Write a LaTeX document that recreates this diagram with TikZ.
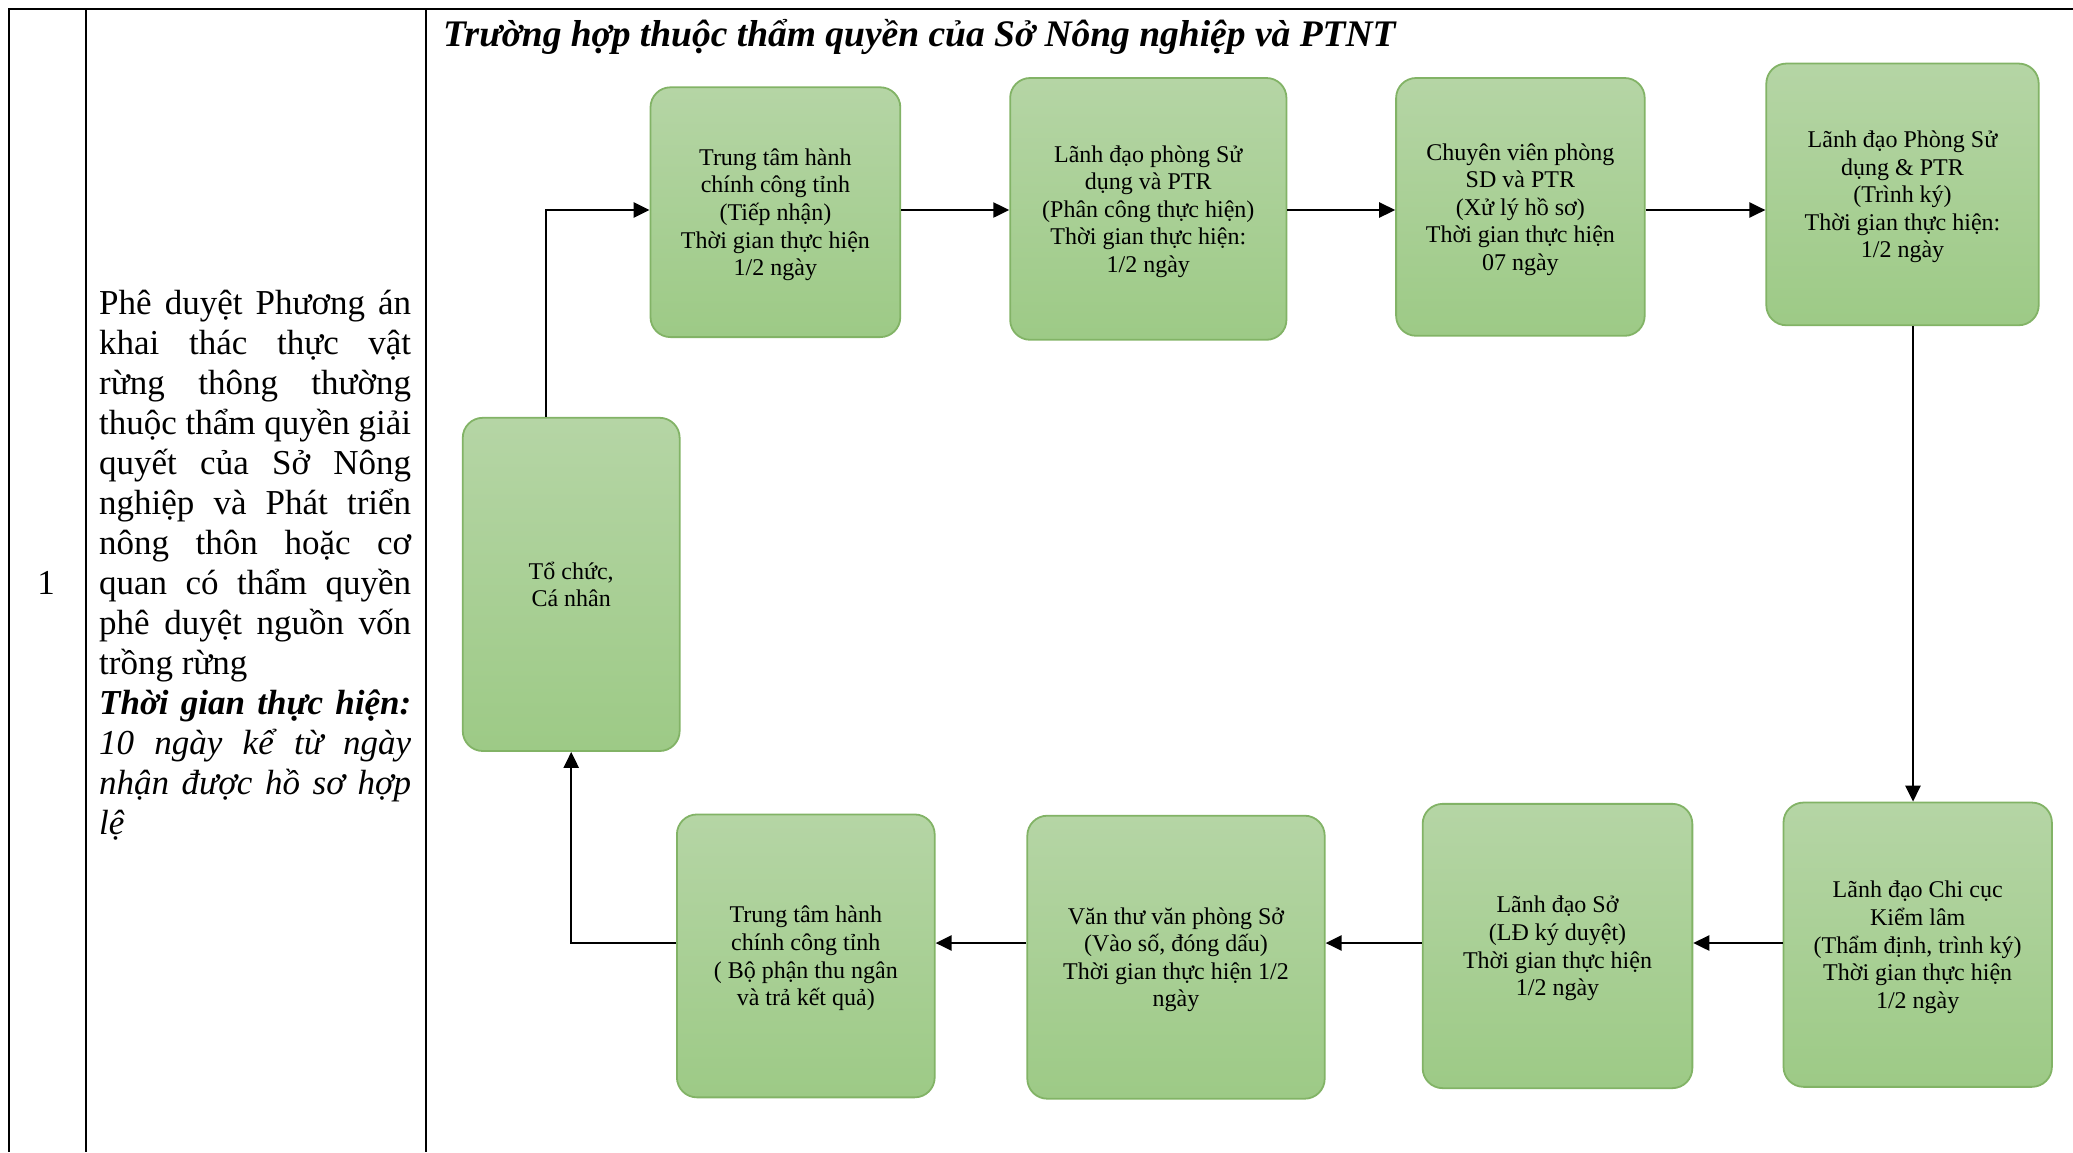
\documentclass[tikz,border=0pt]{standalone}
\usepackage{fontspec}
\setmainfont{Liberation Serif}
\usetikzlibrary{arrows.meta}
\definecolor{gtop}{RGB}{181,213,165}
\definecolor{gbot}{RGB}{157,202,134}
\definecolor{gline}{RGB}{130,179,102}
\hbadness=10000
\hfuzz=20pt
\begin{document}
\begin{tikzpicture}[x=1pt,y=-1pt,
  stepbox/.style={draw=gline, line width=1.8pt, rounded corners=20pt,
    top color=gtop, bottom color=gbot, align=center, inner sep=0pt,
    text depth=-2.5pt,
    font=\fontsize{24}{27.6}\selectfont},
  arr/.style={line width=2.5pt, -{Triangle[length=16pt,width=15pt]}},
  tbl/.style={line width=2.6pt}]
\useasboundingbox (0,0) rectangle (2073,1152);
% table rules
\coordinate (tl) at (9,9);
\coordinate (tr) at (2073,9);
\draw[tbl] (tr) -- (tl) -- (9,1152);
\draw[tbl] (86,9) -- (86,1152);
\draw[tbl] (426,9) -- (426,1152);
% title
\node[anchor=base west, inner sep=0pt, font=\fontsize{37.5}{40}\selectfont\bfseries\itshape] (title) at (443,46)
  {Trường hợp thuộc thẩm quyền của Sở Nông nghiệp và PTNT};
% number
\node[inner sep=0pt, font=\fontsize{35}{40}\selectfont] (num) at (46,583) {1};
% description
\node[anchor=base west, inner sep=0pt] (desc) at (99,314) {\vtop{\fontsize{35}{40}\selectfont
  \hbox to 312pt{Phê duyệt Phương án}
  \hbox to 312pt{khai thác thực vật}
  \hbox to 312pt{rừng thông thường}
  \hbox to 312pt{thuộc thẩm quyền giải}
  \hbox to 312pt{quyết của Sở Nông}
  \hbox to 312pt{nghiệp và Phát triển}
  \hbox to 312pt{nông thôn hoặc cơ}
  \hbox to 312pt{quan có thẩm quyền}
  \hbox to 312pt{phê duyệt nguồn vốn}
  \hbox{trồng rừng}
  \hbox to 312pt{\bfseries\itshape Thời gian thực hiện:}
  \hbox to 312pt{\itshape 10 ngày kể từ ngày}
  \hbox to 312pt{\itshape nhận được hồ sơ hợp}
  \hbox{\itshape lệ}}};
% boxes
\node[stepbox, minimum width=249.8pt, minimum height=249.8pt] (b1) at (775.4,212.2)
  {Trung tâm hành\\chính công tỉnh\\(Tiếp nhận)\\Thời gian thực hiện\\1/2 ngày};
\node[stepbox, minimum width=276.3pt, minimum height=261.8pt] (b2) at (1148.3,208.9)
  {Lãnh đạo phòng Sử\\dụng và PTR\\(Phân công thực hiện)\\Thời gian thực hiện:\\1/2 ngày};
\node[stepbox, minimum width=248.6pt, minimum height=257.8pt] (b3) at (1520.4,206.9)
  {Chuyên viên phòng\\SD và PTR\\(Xử lý hồ sơ)\\Thời gian thực hiện\\07 ngày};
\node[stepbox, minimum width=272.4pt, minimum height=261.7pt] (b4) at (1902.5,194.4)
  {Lãnh đạo Phòng Sử\\dụng \& PTR\\(Trình ký)\\Thời gian thực hiện:\\1/2 ngày};
\node[stepbox, minimum width=268.4pt, minimum height=284.3pt] (b5) at (1917.7,944.7)
  {Lãnh đạo Chi cục\\Kiểm lâm\\(Thẩm định, trình ký)\\Thời gian thực hiện\\1/2 ngày};
\node[stepbox, minimum width=269.7pt, minimum height=284.3pt] (b6) at (1557.5,946.0)
  {Lãnh đạo Sở\\(LĐ ký duyệt)\\Thời gian thực hiện\\1/2 ngày};
\node[stepbox, minimum width=297.4pt, minimum height=283.0pt] (b7) at (1176.0,957.2)
  {Văn thư văn phòng Sở\\(Vào số, đóng dấu)\\Thời gian thực hiện 1/2\\ngày};
\node[stepbox, minimum width=257.8pt, minimum height=282.9pt] (b8) at (805.8,955.9)
  {Trung tâm hành\\chính công tỉnh\\( Bộ phận thu ngân\\và trả kết quả)};
\node[stepbox, text depth=0pt, minimum width=216.9pt, minimum height=333.2pt] (b9) at (571.2,584.4)
  {Tổ chức,\\Cá nhân};
% routing coordinates
\coordinate (rowT) at (0,210);
\coordinate (rowB) at (0,943);
\coordinate (upx) at (546,0);
\coordinate (vx) at (1913,0);
% connectors
\draw[arr] (b9.north -| upx) |- (b1.west |- rowT);
\draw[arr] (b1.east |- rowT) -- (b2.west |- rowT);
\draw[arr] (b2.east |- rowT) -- (b3.west |- rowT);
\draw[arr] (b3.east |- rowT) -- (b4.west |- rowT);
\draw[arr] (b4.south -| vx) -- (b5.north -| vx);
\draw[arr] (b5.west |- rowB) -- (b6.east |- rowB);
\draw[arr] (b6.west |- rowB) -- (b7.east |- rowB);
\draw[arr] (b7.west |- rowB) -- (b8.east |- rowB);
\draw[arr] (b8.west |- rowB) -| (b9.south);
\end{tikzpicture}
\end{document}
